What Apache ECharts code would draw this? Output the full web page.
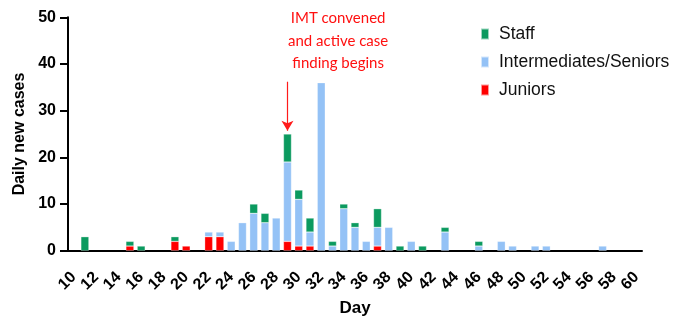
<!DOCTYPE html>
<html>
<head>
<meta charset="utf-8">
<script src="https://cdn.jsdelivr.net/npm/echarts@6/dist/echarts.min.js"></script>
<style>
html,body{margin:0;padding:0;background:#fff;}
#chart{width:686px;height:320px;}
</style>
</head>
<body>
<div id="chart"></div>
<script>
var days = [];
for (var d = 10; d <= 60; d++) days.push(String(d));
// values per day, days 10..60
var juniors = [0,0,0,0,0, 1,0,0,0,2, 1,0,3,3,0, 0,0,0,0,2, 1,1,0,0,0, 0,0,1,0,0, 0,0,0,0,0, 0,0,0,0,0, 0,0,0,0,0, 0,0,0,0,0, 0];
var inter   = [0,0,0,0,0, 0,0,0,0,0, 0,0,1,1,2, 6,8,6,7,17, 10,3,36,1,9, 5,2,4,5,0, 2,0,0,4,0, 0,1,0,2,1, 0,1,1,0,0, 0,0,1,0,0, 0];
var staff   = [0,3,0,0,0, 1,1,0,0,1, 0,0,0,0,0, 0,2,2,0,6, 2,3,0,1,1, 1,0,4,0,1, 0,1,0,1,0, 0,1,0,0,0, 0,0,0,0,0, 0,0,0,0,0, 0];
var yTicks = [0, 10, 20, 30, 40, 50];
var annotationText = 'IMT convened\nand active case\nfinding begins';

function nz(a){ return a.map(function(v){ return v === 0 ? null : v; }); }

var chart = echarts.init(document.getElementById('chart'), null, {renderer:'canvas'});
var axisFont = 'Liberation Sans';
chart.setOption({
  animation: false,
  backgroundColor: '#fff',
  grid: {left: 68, right: 44, top: 17.3, bottom: 69.3, containLabel: false, outerBoundsMode: 'none'},
  legend: {
    orient: 'vertical', left: 475, top: 20,
    itemWidth: 8, itemHeight: 11, itemGap: 10,
    icon: 'rect',
    data: ['Staff', 'Intermediates/Seniors', 'Juniors'],
    textStyle: {fontFamily: axisFont, fontSize: 17.5, color: '#111', lineHeight: 17, padding: [0,0,0,5]}
  },
  xAxis: {
    type: 'category', data: days,
    name: 'Day', nameLocation: 'middle', nameGap: 49,
    nameTextStyle: {fontFamily: axisFont, fontSize: 17, fontWeight: 'bold', color: '#000'},
    axisLine: {lineStyle: {color: '#000', width: 2}},
    axisTick: {alignWithLabel: true, interval: 1, length: 8, lineStyle: {color: '#000', width: 2}},
    axisLabel: {interval: 1, rotate: 45, margin: 24, fontFamily: axisFont, fontSize: 16, fontWeight: 'bold', color: '#000'}
  },
  yAxis: {
    type: 'value', min: 0, max: 50, interval: 10,
    name: 'Daily new cases', nameLocation: 'middle', nameGap: 37,
    nameTextStyle: {fontFamily: axisFont, fontSize: 16, fontWeight: 'bold', color: '#000'},
    axisLine: {show: true, lineStyle: {color: '#000', width: 2}},
    axisTick: {show: true, length: 8, lineStyle: {color: '#000', width: 2}},
    axisLabel: {margin: 12, fontFamily: axisFont, fontSize: 16, fontWeight: 'bold', color: '#000',
      formatter: function(v){ return yTicks.indexOf(v) >= 0 ? String(v) : ''; }},
    splitLine: {show: false}
  },
  series: [
    {name: 'Juniors', type: 'bar', stack: 'a', data: nz(juniors), barWidth: 8,
     itemStyle: {color: '#ff0000', borderColor: 'rgba(255,255,255,0.6)', borderWidth: 0.5},
     markLine: {
       silent: true, symbol: ['none', 'arrow'], symbolSize: [9, 10],
       lineStyle: {color: '#ff1a1a', width: 1.2, type: 'solid'},
       label: {show: false},
       data: [[{coord: ['29', 36.2]}, {coord: ['29', 25.7]}]]
     }},
    {name: 'Intermediates/Seniors', type: 'bar', stack: 'a', data: nz(inter), barWidth: 8,
     itemStyle: {color: '#94c2f6', borderColor: 'rgba(255,255,255,0.6)', borderWidth: 0.5}},
    {name: 'Staff', type: 'bar', stack: 'a', data: nz(staff), barWidth: 8,
     itemStyle: {color: '#0b9a5f', borderColor: 'rgba(255,255,255,0.6)', borderWidth: 0.5}}
  ],
  graphic: [{
    type: 'text', left: 288, top: 7,
    style: {text: annotationText, fill: '#ff1010', font: '15px Lato', textAlign: 'center', lineHeight: 22.5}
  }]
});
</script>
</body>
</html>
